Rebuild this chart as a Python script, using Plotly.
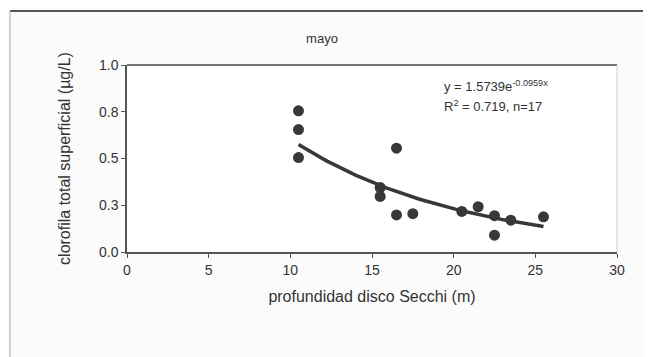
import numpy as np
import plotly.graph_objects as go

# profundidad disco Secchi (m) vs clorofila total superficial (µg/L), mayo
secchi = [10.5, 10.5, 10.5, 15.5, 15.5, 16.5, 16.5, 17.5, 20.5, 21.5, 22.5, 22.5, 23.5, 25.5]
clorofila = [0.755, 0.655, 0.505, 0.345, 0.297, 0.555, 0.198, 0.205, 0.217, 0.242, 0.194, 0.090, 0.170, 0.188]

# exponential trendline coefficients (as printed on chart)
coef_a = 1.5739
coef_b = -0.0959

y_ticks = [0, 0.25, 0.5, 0.75, 1.0]
y_labels = ["0.0", "0.3", "0.5", "0.8", "1.0"]

x_fit = np.linspace(min(secchi), max(secchi), 60)
y_fit = coef_a * np.exp(coef_b * x_fit)

ink = "#383838"
font = "Liberation Sans, Arial, sans-serif"

# the page adds an 8px body margin, so the plot is placed 8px up/left
fig = go.Figure()
fig.add_trace(go.Scatter(x=secchi, y=clorofila, mode="markers",
                         marker=dict(size=11, color=ink), showlegend=False))
fig.add_trace(go.Scatter(x=x_fit, y=y_fit, mode="lines",
                         line=dict(color=ink, width=3.5), showlegend=False))

fig.update_layout(
    width=651, height=357,
    margin=dict(l=119, r=42, t=57, b=113),
    paper_bgcolor="#fbfbfb", plot_bgcolor="white",
    font=dict(family=font, size=13, color="#333"),
    title=dict(text="mayo", x=(322 - 8) / 651, xanchor="center",
               y=1 - (38 - 8) / 357, yanchor="middle", font=dict(size=13)),
)
fig.update_xaxes(range=[0, 30], tickvals=[0, 5, 10, 15, 20, 25, 30],
                 showgrid=False, zeroline=False, showline=True, linecolor="#555",
                 linewidth=1.5, ticks="outside", ticklen=4, tickcolor="#555",
                 automargin=False, tickfont=dict(size=14),
                 title=dict(text="profundidad disco Secchi (m)", standoff=14))
fig.update_yaxes(range=[0, 1.0], tickvals=y_ticks, ticktext=y_labels,
                 showgrid=False, zeroline=False, showline=True, linecolor="#555",
                 linewidth=1.5, ticks="outside", ticklen=4, tickcolor="#555",
                 automargin=False, tickfont=dict(size=14),
                 title=dict(text="clorofila total superficial (µg/L)", standoff=24))

# plot area top (1.0 line) and right border
fig.add_shape(type="line", xref="paper", yref="paper", x0=0, x1=1, y0=1, y1=1,
              line=dict(color="#444", width=1.5))
fig.add_shape(type="line", xref="paper", yref="paper", x0=1, x1=1, y0=0, y1=1,
              line=dict(color="#ccc", width=1))
# outer chart frame (bottom edge falls outside the picture)
fx0, fx1 = (10 - 127) / 490, (645 - 127) / 490
fy0, fy1 = (252 - 370) / 187, (252 - 11) / 187
fig.add_shape(type="line", xref="paper", yref="paper", x0=fx0, x1=fx1, y0=fy1, y1=fy1,
              line=dict(color="#555", width=2))
fig.add_shape(type="line", xref="paper", yref="paper", x0=fx0, x1=fx0, y0=fy0, y1=fy1,
              line=dict(color="#aaa", width=1))
fig.add_shape(type="line", xref="paper", yref="paper", x0=fx1, x1=fx1, y0=fy0, y1=fy1,
              line=dict(color="#999", width=1))

fig.add_annotation(x=(442 - 127) / 490, y=(252 - 86) / 187, xref="paper", yref="paper",
                   xanchor="left", yanchor="middle", showarrow=False,
                   text="y = 1.5739e<sup>-0.0959x</sup>", font=dict(size=13))
fig.add_annotation(x=(442 - 127) / 490, y=(252 - 106) / 187, xref="paper", yref="paper",
                   xanchor="left", yanchor="middle", showarrow=False,
                   text="R<sup>2</sup> = 0.719, n=17", font=dict(size=13))

fig.write_html("out.html")
